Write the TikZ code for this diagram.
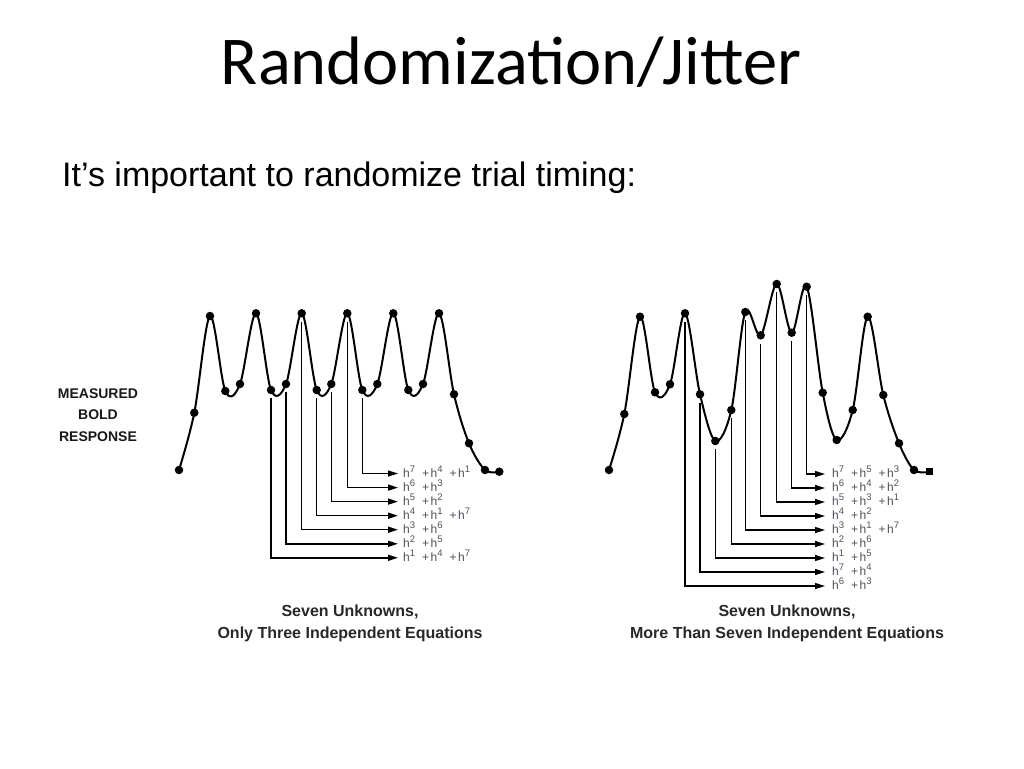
\documentclass[tikz,border=0pt]{standalone}
\usepackage{fontspec}
\setmainfont{Liberation Sans}
\newfontfamily\titlefont{Carlito}
\usetikzlibrary{arrows.meta}
\definecolor{eqgray}{RGB}{80,80,88}
\definecolor{capgray}{RGB}{40,40,40}
\newcommand{\hsup}[1]{h\raisebox{0.4em}{\fontsize{9.5}{10}\selectfont #1}}
\newcommand{\hpl}{\hspace{7pt}+\hspace{1.5pt}}
\begin{document}
\begin{tikzpicture}[x=1pt,y=-1pt,
  dot/.style={circle,fill=black,inner sep=0pt,minimum size=8.5pt},
  sqdot/.style={rectangle,fill=black,inner sep=0pt,minimum size=7pt},
  curve/.style={line width=2pt,line join=round},
  conn/.style={line width=1.4pt,-{Triangle[length=10pt,width=6pt]}},
  eq/.style={anchor=west,inner ysep=0pt,text height=7.5pt,text depth=0pt,
    font=\fontsize{12}{13}\selectfont,text=eqgray},
  eqL/.style={eq,inner xsep=5pt},
  eqR/.style={eq,inner xsep=7pt},
  capt/.style={font=\bfseries\fontsize{16}{22}\selectfont,align=center,text=capgray,inner sep=0pt}]
\useasboundingbox (0,0) rectangle (1024,768);
\fill[white] (0,0) rectangle (1024,768);

% title and subtitle
\node[font=\titlefont\fontsize{68.5}{80}\selectfont,anchor=base,inner sep=0pt] (title) at (511,84) {Randomization/Jitter};
\node[font=\fontsize{34}{40}\selectfont,anchor=base west,inner sep=0pt] (sub) at (62,186) {It’s important to randomize trial timing:};

% y-axis label
\node[font=\bfseries\fontsize{14}{21.5}\selectfont,align=center,inner sep=0pt,text=black!90] (mbr) at (98,415) {MEASURED\\BOLD\\RESPONSE};

% left plot samples
\foreach \x/\y [count=\i] in {179/470,194.3/412.7,210/316,225.3/391,240/384,256/313.3,271/390,286/384,301.7/313.3,316.7/390,331.3/384,347.3/313.3,362.3/390,377.3/384,393.3/313.3,408.3/390,423/384,439/313.3,454/394.3,469/443.3,485/470,499.3/471.7}
  {\node[dot] (L\i) at (\x,\y) {};}
\draw[curve] plot[smooth,tension=0.55] coordinates {(L1) (L2) (L3) (L4) (L5) (L6) (L7) (L8) (L9) (L10) (L11) (L12) (L13) (L14) (L15) (L16) (L17) (L18) (L19) (L20) (L21) (L22)};

% right plot samples
\foreach \x/\y [count=\i] in {609/470,624.3/414,640/316.7,655/392.3,670/384.3,685/313.3,700/394.3,715.3/441,731.3/410,745.3/312,760.7/335.3,776.7/284,791.7/332.7,806.7/286.7,822.7/392.7,836.7/440,852.7/410,867.7/316.7,883.3/395,899/443.3,914/470}
  {\node[dot] (R\i) at (\x,\y) {};}
\node[sqdot] (R22) at (929.3,471.7) {};
\draw[curve] plot[smooth,tension=0.55] coordinates {(R1) (R2) (R3) (R4) (R5) (R6) (R7) (R8) (R9) (R10) (R11) (R12) (R13) (R14) (R15) (R16) (R17) (R18) (R19) (R20) (R21) (R22)};

% left equations
\node[eqL] (EL1) at (398,473.5) {\hsup{7}\hpl\hsup{4}\hpl\hsup{1}};
\node[eqL] (EL2) at (398,487.6) {\hsup{6}\hpl\hsup{3}};
\node[eqL] (EL3) at (398,501.6) {\hsup{5}\hpl\hsup{2}};
\node[eqL] (EL4) at (398,515.7) {\hsup{4}\hpl\hsup{1}\hpl\hsup{7}};
\node[eqL] (EL5) at (398,529.7) {\hsup{3}\hpl\hsup{6}};
\node[eqL] (EL6) at (398,543.8) {\hsup{2}\hpl\hsup{5}};
\node[eqL] (EL7) at (398,557.8) {\hsup{1}\hpl\hsup{4}\hpl\hsup{7}};

\draw[conn] ([yshift=-4pt]L13.south) |- (EL1.west);
\draw[conn] ([yshift=-4pt]L12.south) |- (EL2.west);
\draw[conn] ([yshift=-4pt]L11.south) |- (EL3.west);
\draw[conn] ([yshift=-4pt]L10.south) |- (EL4.west);
\draw[conn] ([yshift=-4pt]L9.south) |- (EL5.west);
\draw[conn] ([yshift=-4pt]L8.south) |- (EL6.west);
\draw[conn] ([yshift=-4pt]L7.south) |- (EL7.west);

% right equations
\node[eqR] (ER1) at (825,474) {\hsup{7}\hpl\hsup{5}\hpl\hsup{3}};
\node[eqR] (ER2) at (825,488) {\hsup{6}\hpl\hsup{4}\hpl\hsup{2}};
\node[eqR] (ER3) at (825,502) {\hsup{5}\hpl\hsup{3}\hpl\hsup{1}};
\node[eqR] (ER4) at (825,516) {\hsup{4}\hpl\hsup{2}};
\node[eqR] (ER5) at (825,530) {\hsup{3}\hpl\hsup{1}\hpl\hsup{7}};
\node[eqR] (ER6) at (825,544) {\hsup{2}\hpl\hsup{6}};
\node[eqR] (ER7) at (825,558) {\hsup{1}\hpl\hsup{5}};
\node[eqR] (ER8) at (825,572) {\hsup{7}\hpl\hsup{4}};
\node[eqR] (ER9) at (825,586) {\hsup{6}\hpl\hsup{3}};

\draw[conn] ([yshift=-4pt]R14.south) |- (ER1.west);
\draw[conn] ([yshift=-4pt]R13.south) |- (ER2.west);
\draw[conn] ([yshift=-4pt]R12.south) |- (ER3.west);
\draw[conn] ([yshift=-4pt]R11.south) |- (ER4.west);
\draw[conn] ([yshift=-4pt]R10.south) |- (ER5.west);
\draw[conn] ([yshift=-4pt]R9.south) |- (ER6.west);
\draw[conn] ([yshift=-4pt]R8.south) |- (ER7.west);
\draw[conn] ([yshift=-4pt]R7.south) |- (ER8.west);
\draw[conn] ([yshift=-4pt]R6.south) |- (ER9.west);

% captions
\node[capt] (capL) at (350,623) {Seven Unknowns,\\Only Three Independent Equations};
\node[capt] (capR) at (787,623) {Seven Unknowns,\\More Than Seven Independent Equations};
\end{tikzpicture}
\end{document}
